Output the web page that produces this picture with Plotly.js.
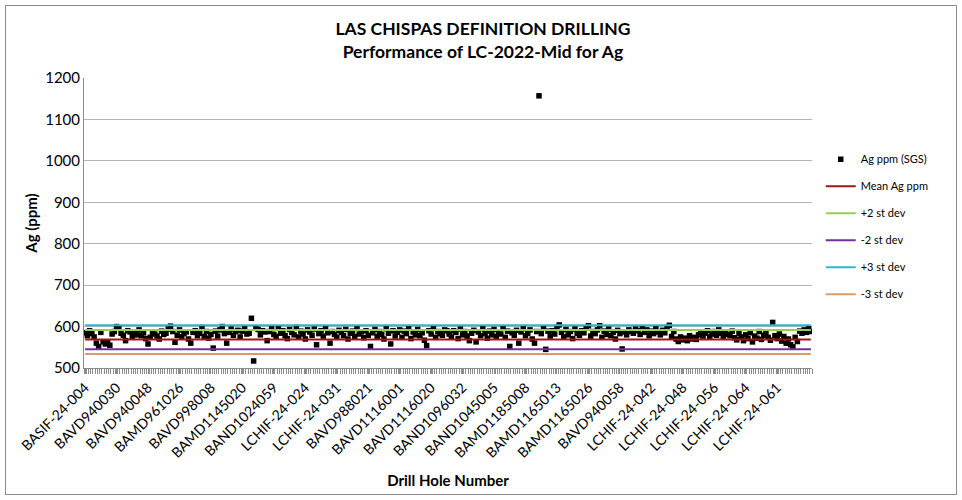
<!DOCTYPE html>
<html>
<head>
<meta charset="utf-8">
<script src="https://cdn.plot.ly/plotly-3.0.1.min.js"></script>
<style>
  html, body { margin: 0; padding: 0; background: #fff; }
  #wrap { position: relative; width: 962px; height: 500px; }
  #chart { width: 962px; height: 500px; }
  #frame { position: absolute; left: 5px; top: 5px; width: 950px; height: 488px;
           border: 1px solid #8c8c8c; pointer-events: none; }
</style>
</head>
<body>
<div id="wrap"><div id="chart"></div><div id="frame"></div></div>
<script>
// Tick labels shown on the category axis (every 14th drill hole sample)
const tickLabels = ["BASIF-24-004","BAVD940030","BAVD940048","BAMD961026","BAVD998008",
  "BAMD1145020","BAND1024059","LCHIF-24-024","LCHIF-24-031","BAVD988021","BAVD1116001",
  "BAVD1116020","BAND1096032","BAND1045005","BAMD1185008","BAMD1165013","BAMD1165026",
  "BAVD940058","LCHIF-24-042","LCHIF-24-048","LCHIF-24-056","LCHIF-24-064","LCHIF-24-061"];
const labelStep = 14;

// Ag ppm (SGS) values
const agPpm = [
  585,578,590,583,575,560,552,586,563,558,
  561,555,582,588,600,597,584,579,566,590,
  587,576,583,580,592,578,585,571,558,574,
  586,582,577,570,589,581,584,594,601,588,
  562,579,592,575,583,587,570,560,586,590,
  578,584,598,576,588,572,581,548,589,577,
  592,600,583,560,586,594,579,588,591,575,
  589,596,582,584,620,517,597,593,580,590,
  587,
  566,588,595,581,576,597,584,590,578,571,
  593,586,580,598,575,589,582,570,592,587,
  579,594,556,583,590,577,596,585,560,588,
  581,574,591,586,578,593,570,584,589,576,
  597,582,587,573,590,579,552,585,593,576,
  588,581,570,595,584,558,590,577,586,592,
  574,589,583,596,571,587,580,593,578,585,
  567,554,590,582,596,574,588,583,579,592,
  590,
  582,575,590,586,571,594,580,588,577,566,
  584,591,563,587,578,595,583,572,589,580,
  593,576,586,582,597,574,589,552,585,579,
  591,560,587,595,578,584,592,570,560,588,
  1157,583,596,545,589,577,590,582,598,604,
  586,575,593,580,588,571,594,584,579,590,
  585,596,602,577,588,583,592,602,574,589,
  581,594,578,586,570,591,583,546,587,580,
  592,
  588,584,594,590,581,597,586,592,578,589,
  583,595,587,580,591,585,598,603,576,588,
  570,564,575,568,572,566,578,570,574,569,
  580,586,577,584,590,575,582,588,579,592,
  584,576,587,581,578,589,573,568,583,575,
  566,580,571,585,563,577,572,588,569,579,
  584,574,567,610,578,571,582,565,576,560,
  570,556,551,574,564,589,584,592,586,595,
  588
];

// Statistics lines
const meanAg = 568.5;
const stDev = 11.5;

const n = agPpm.length;
const idx = agPpm.map((_, i) => i);
const tickVals = tickLabels.map((_, i) => i * labelStep);
const ends = [0, n - 1];

const FONT = "Lato, 'Open Sans', sans-serif";

function statLine(name, value, color) {
  return { type: 'scatter', mode: 'lines', name: name, x: ends, y: [value, value],
           line: { color: color, width: 2 }, legendgroup: name, hoverinfo: 'name+y' };
}

const traces = [
  { type: 'scatter', mode: 'markers', name: 'Ag ppm (SGS)', x: idx, y: agPpm,
    marker: { symbol: 'square', size: 5.5, color: '#000000' }, legendgroup: 'ag' },
  statLine('Mean Ag ppm', meanAg, '#a31515'),
  statLine('+2 st dev', meanAg + 2 * stDev, '#92d050'),
  statLine('-2 st dev', meanAg - 2 * stDev, '#7030a0'),
  statLine('+3 st dev', meanAg + 3 * stDev, '#2fb3da'),
  statLine('-3 st dev', meanAg - 3 * stDev, '#dc9a62')
];

const layout = {
  width: 962, height: 500,
  margin: { l: 84, r: 150, t: 78, b: 132 },
  paper_bgcolor: '#ffffff', plot_bgcolor: '#ffffff',
  font: { family: FONT, color: '#000000' },
  title: { text: '<b>LAS CHISPAS DEFINITION DRILLING<br>Performance of LC-2022-Mid for Ag</b>',
           font: { size: 17.5, family: FONT, color: '#000' },
           x: 0.502, xref: 'container', xanchor: 'center',
           y: 0.93, yref: 'container', yanchor: 'top', pad: { t: 0 } },
  showlegend: true,
  legend: { x: 1.012, xanchor: 'left', y: 0.77, yanchor: 'top',
            font: { size: 11, family: FONT, color: '#000' },
            tracegroupgap: 8, bgcolor: 'rgba(0,0,0,0)' },
  xaxis: {
    range: [-0.5, n - 0.5],
    tickmode: 'array', tickvals: tickVals, ticktext: tickLabels,
    tickangle: -45, tickfont: { size: 14, family: FONT, color: '#000' },
    ticks: 'outside', ticklen: 5, tickcolor: '#8c8c8c',
    minor: { tickmode: 'linear', tick0: -0.5, dtick: 1, ticks: 'outside', ticklen: 5, tickcolor: '#8c8c8c', showgrid: false },
    showgrid: false, zeroline: false,
    showline: true, linecolor: '#8c8c8c', linewidth: 1,
    title: { text: '<b>Drill Hole Number</b>', font: { size: 15, family: FONT, color: '#000' }, standoff: 15 }
  },
  yaxis: {
    range: [500, 1200], dtick: 100, tick0: 500,
    tickfont: { size: 15, family: FONT, color: '#000' },
    showgrid: true, gridcolor: '#b4b4b4', gridwidth: 1, zeroline: false,
    showline: true, linecolor: '#8c8c8c', linewidth: 1,
    ticks: '', ticklen: 0,
    title: { text: '<b>Ag (ppm)</b>', font: { size: 15, family: FONT, color: '#000' }, standoff: 3 }
  }
};

Plotly.newPlot('chart', traces, layout, { displayModeBar: false, staticPlot: true });
</script>
</body>
</html>
